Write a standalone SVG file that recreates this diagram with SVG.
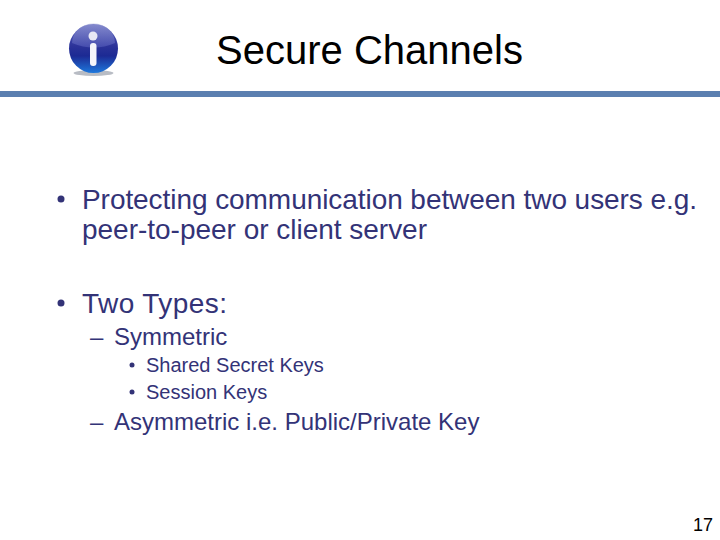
<svg xmlns="http://www.w3.org/2000/svg" width="720" height="540" viewBox="0 0 720 540">
<style>
text{font-family:"Liberation Sans",Arial,sans-serif;fill:#333377}
.l1{font-size:28px}.l2{font-size:24px}.l3{font-size:20px}
</style>
<defs>
<linearGradient id="g" x1="0" y1="0" x2="0" y2="1"><stop offset="0" stop-color="#5a62c0"/><stop offset=".45" stop-color="#2c3399"/><stop offset=".65" stop-color="#1c2a94"/><stop offset="1" stop-color="#1e78dc"/></linearGradient>
<linearGradient id="s" x1="0" y1="0" x2="0" y2="1"><stop offset="0" stop-color="#a8acd8"/><stop offset="1" stop-color="#5a62c0"/></linearGradient>
</defs>
<rect width="720" height="540" fill="#fff"/>
<rect x="0" y="91" width="720" height="6" fill="#5b7fb0"/>
<g id="icon">
<ellipse cx="93.500" cy="73" rx="20" ry="3" fill="#b8bcc4"/>
<circle cx="93.500" cy="48.500" r="24.500" fill="url(#g)"/>
<path d="M72 43a21 19 0 0 1 43 0q-21 9-43 0z" fill="url(#s)" opacity=".55"/>
<circle cx="93" cy="36" r="4.500" fill="#e8e8f4"/>
<rect x="90" y="43" width="6.500" height="23" rx="3" fill="#f4f4fa"/>
</g>
<text x="369.500" y="64" text-anchor="middle" font-size="40" style="fill:#000">Secure Channels</text>
<g id="body">
<circle cx="61" cy="199" r="3.500" fill="#333377"/>
<text class="l1" x="82" y="209" textLength="615">Protecting communication between two users e.g.</text>
<text class="l1" x="82" y="239" textLength="345">peer-to-peer or client server</text>
<circle cx="61" cy="303" r="3.500" fill="#333377"/>
<text class="l1" x="82" y="313" textLength="145">Two Types:</text>
<text class="l2" x="90" y="345">–</text>
<text class="l2" x="114" y="345">Symmetric</text>
<circle cx="132" cy="365" r="2.500" fill="#333377"/>
<text class="l3" x="146" y="372">Shared Secret Keys</text>
<circle cx="132" cy="392" r="2.500" fill="#333377"/>
<text class="l3" x="146" y="399">Session Keys</text>
<text class="l2" x="90" y="430">–</text>
<text class="l2" x="114" y="430">Asymmetric i.e. Public/Private Key</text>
</g>
<text x="713" y="531" text-anchor="end" font-size="18" style="fill:#000">17</text>
</svg>
